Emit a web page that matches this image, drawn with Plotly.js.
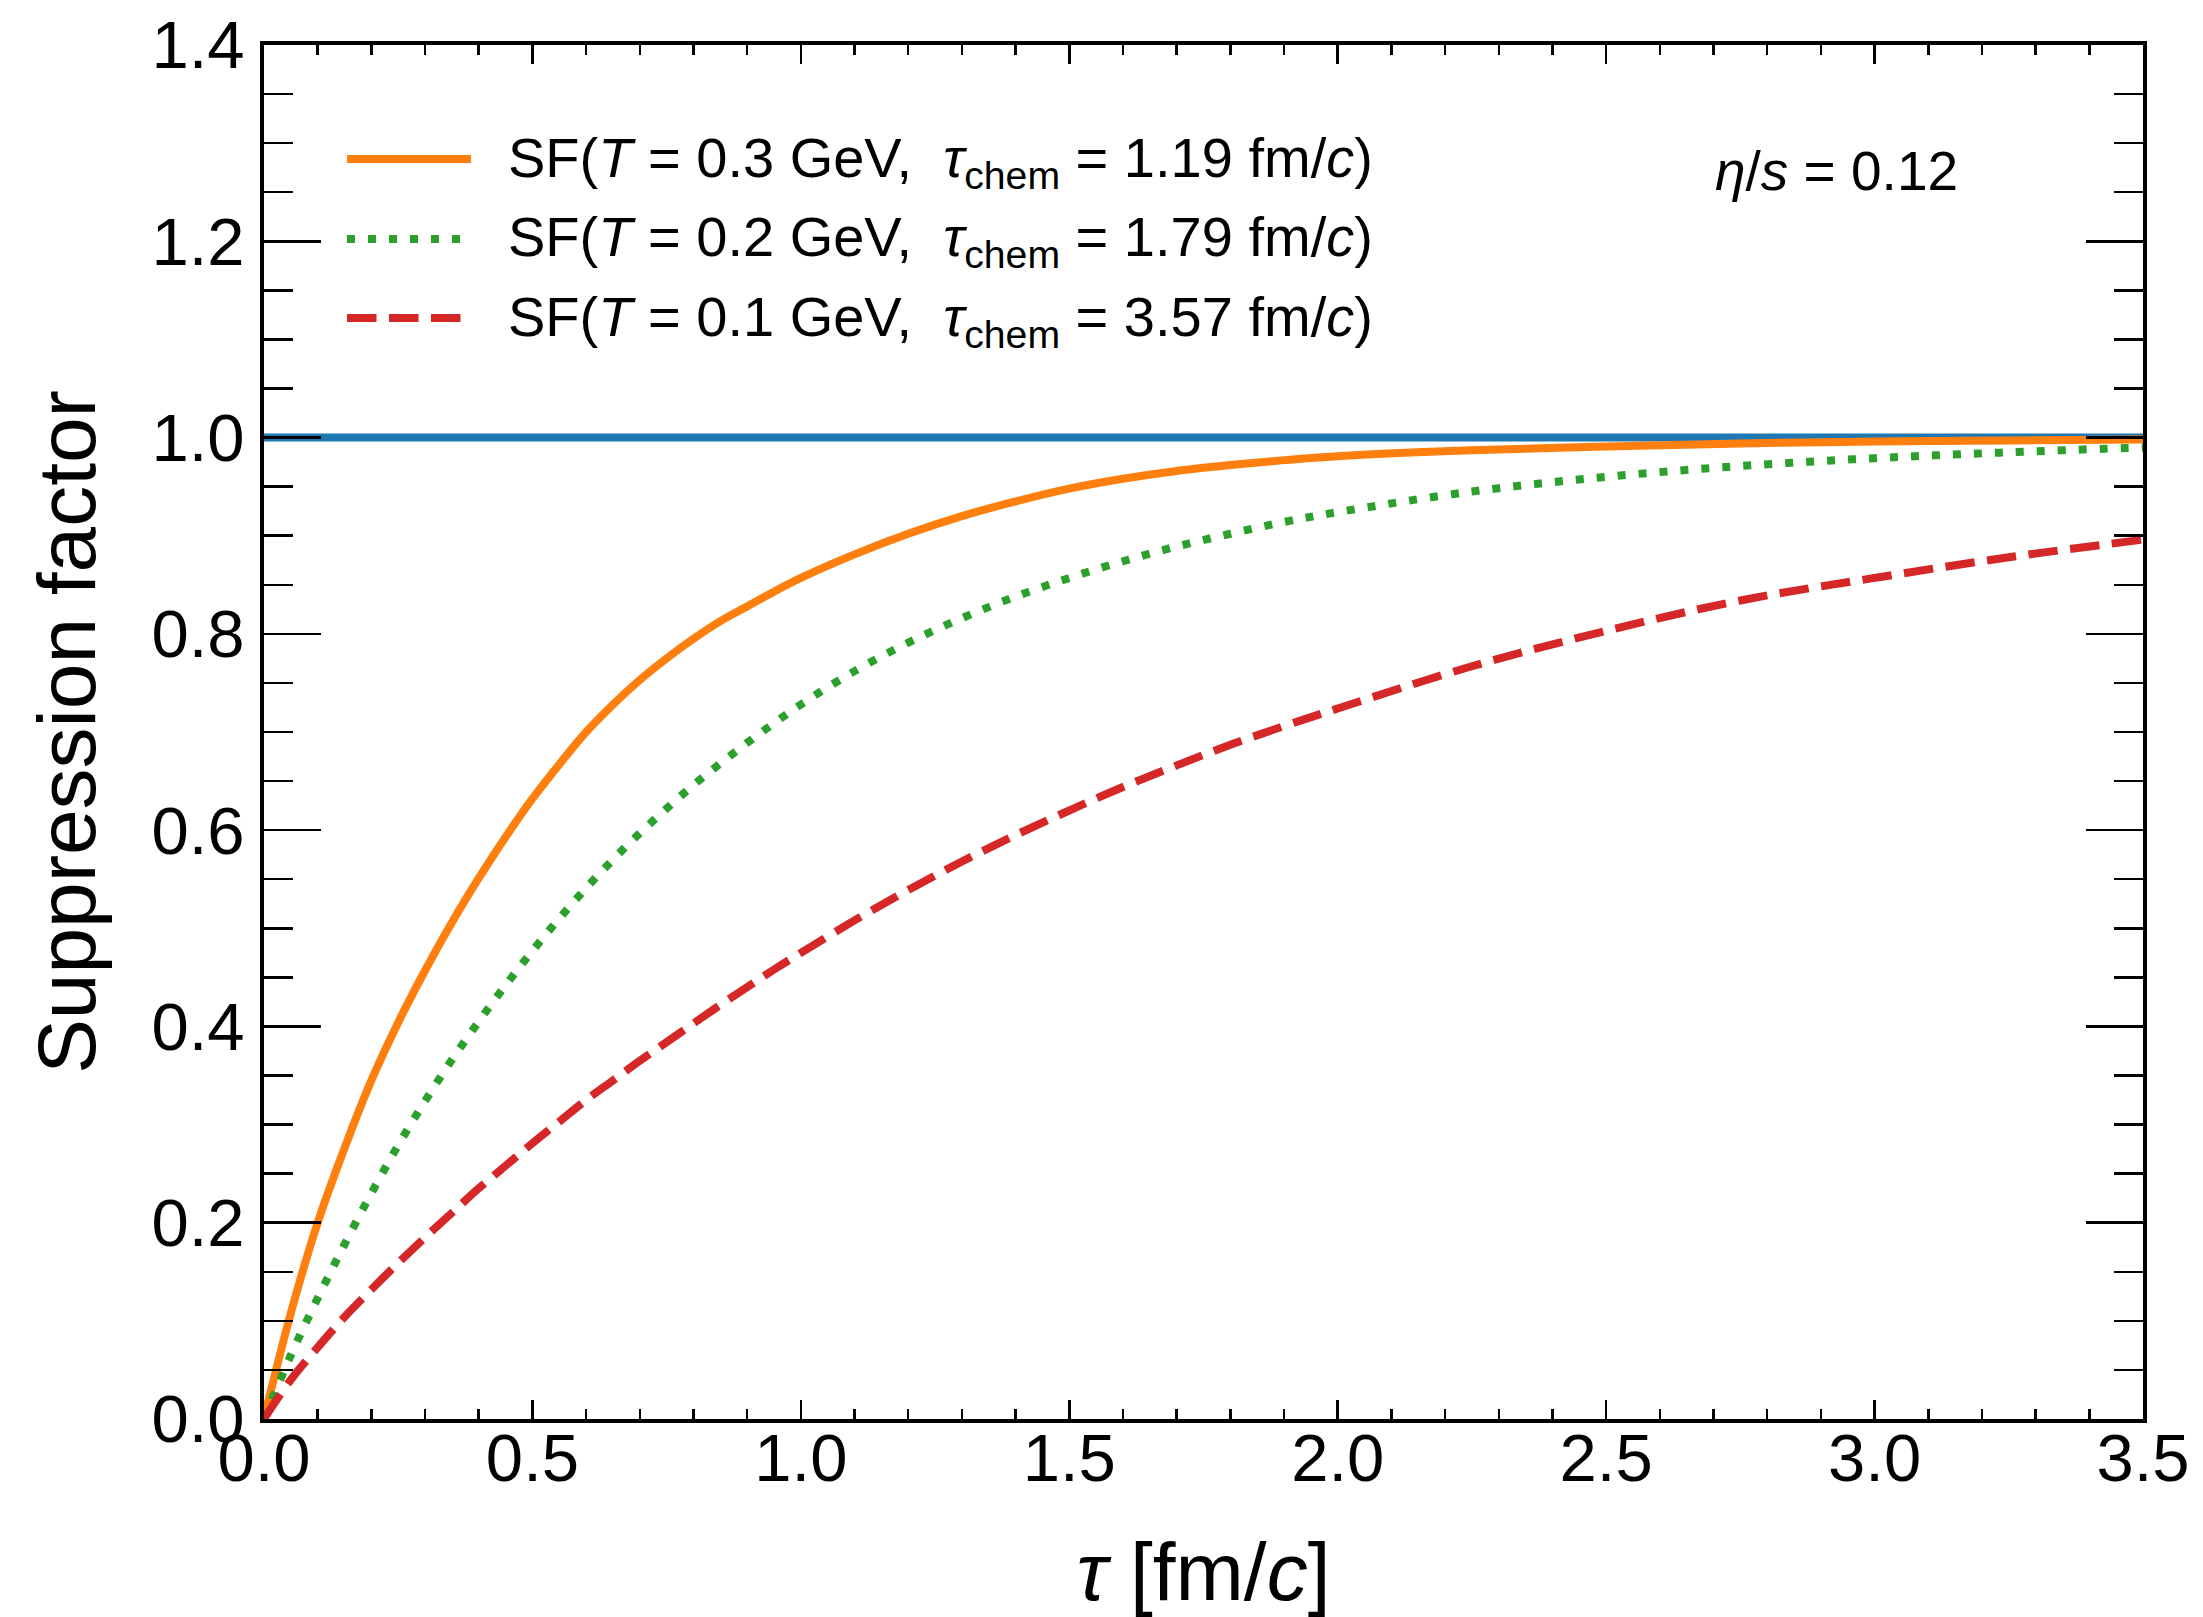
<!DOCTYPE html>
<html><head><meta charset="utf-8">
<script src="https://cdn.plot.ly/plotly-3.0.1.min.js"></script>
<style>html,body{margin:0;padding:0;background:#fff}</style>
</head><body>
<div id="chart" style="width:2203px;height:1617px"></div>
<script>
// ---- data ----
const tau = [0, 0.05, 0.1, 0.15, 0.2, 0.25, 0.3, 0.35, 0.4, 0.45, 0.5, 0.55, 0.6, 0.65, 0.7, 0.75, 0.8, 0.85, 0.9, 0.95, 1.0,
             1.1, 1.2, 1.3, 1.4, 1.5, 1.6, 1.7, 1.8, 1.9, 2.0, 2.25, 2.5, 2.75, 3.0, 3.25, 3.5];
const sfT03 = [0, 0.108, 0.200, 0.276, 0.345, 0.404, 0.457, 0.506, 0.551, 0.593, 0.632, 0.667, 0.700, 0.728, 0.753, 0.775, 0.795, 0.813, 0.828, 0.843, 0.857,
               0.881, 0.902, 0.920, 0.935, 0.948, 0.958, 0.966, 0.972, 0.977, 0.981, 0.987, 0.991, 0.994, 0.996, 0.997, 0.998];
const sfT02 = [0, 0.065, 0.123, 0.178, 0.230, 0.279, 0.324, 0.366, 0.405, 0.442, 0.477, 0.510, 0.541, 0.570, 0.597, 0.622, 0.646, 0.668, 0.689, 0.709, 0.728,
               0.762, 0.791, 0.816, 0.838, 0.857, 0.874, 0.889, 0.902, 0.914, 0.924, 0.945, 0.960, 0.971, 0.979, 0.985, 0.990];
const sfT01 = [0, 0.040, 0.073, 0.104, 0.132, 0.159, 0.185, 0.210, 0.235, 0.258, 0.281, 0.303, 0.325, 0.345, 0.365, 0.384, 0.403, 0.422, 0.440, 0.458, 0.475,
               0.508, 0.539, 0.568, 0.595, 0.620, 0.644, 0.666, 0.687, 0.706, 0.724, 0.767, 0.803, 0.834, 0.857, 0.878, 0.896];
const refX = [0, 3.5];
const refY = [1, 1];
const seriesLabels = [
  "SF(<i>T</i> = 0.3 GeV,  <i>τ</i><sub>chem</sub> = 1.19 fm/<i>c</i>)",
  "SF(<i>T</i> = 0.2 GeV,  <i>τ</i><sub>chem</sub> = 1.79 fm/<i>c</i>)",
  "SF(<i>T</i> = 0.1 GeV,  <i>τ</i><sub>chem</sub> = 3.57 fm/<i>c</i>)"
];
const noteText = "<i>η</i>/<i>s</i> = 0.12";
const xTitle = "<i>τ</i> [fm/<i>c</i>]";
const yTitle = "Suppression factor";
const xTickVals = [0, 0.5, 1.0, 1.5, 2.0, 2.5, 3.0, 3.5];
const yTickVals = [0, 0.2, 0.4, 0.6, 0.8, 1.0, 1.2, 1.4];

// ---- styles ----
const FONT = "Liberation Sans, Arial, Helvetica, sans-serif";
const colors = ["#ff7f0e", "#2ca02c", "#d62728"];
const dashes = ["solid", "8px,13px", "29.5px,12.5px"];
const LW = 8;

const series = [sfT03, sfT02, sfT01];
const traces = [{
  x: refX, y: refY, mode: "lines", line: {color: "#1f77b4", width: LW},
  showlegend: false, hoverinfo: "skip"
}];
series.forEach((s, i) => traces.push({
  x: tau, y: s, mode: "lines", name: seriesLabels[i],
  line: {color: colors[i], width: LW, dash: dashes[i], shape: "spline", smoothing: 1},
  showlegend: false
}));

// manual legend (paper coordinates)
const L = 264, R = 2143, T = 45, B = 1419;
const px2x = p => (p - L) / (R - L);
const px2y = p => (B - p) / (B - T);
const legRows = [159, 239, 318];
const shapes = [];
const annotations = [];
legRows.forEach((yy, i) => {
  shapes.push({type: "line", xref: "paper", yref: "paper",
    x0: px2x(347), x1: px2x(471), y0: px2y(yy), y1: px2y(yy),
    line: {color: colors[i], width: LW, dash: dashes[i]}});
  annotations.push({xref: "paper", yref: "paper", x: px2x(506), y: px2y(yy + 2),
    xanchor: "left", yanchor: "middle", showarrow: false, text: seriesLabels[i],
    font: {family: FONT, size: 56, color: "#000"}});
});
annotations.push({xref: "paper", yref: "paper", x: px2x(1713), y: px2y(171),
  xanchor: "left", yanchor: "middle", showarrow: false, text: noteText,
  font: {family: FONT, size: 55, color: "#000"}});

const axisCommon = {
  showline: true, linecolor: "#000", linewidth: 4, mirror: "allticks",
  ticks: "inside", tickcolor: "#000", tickwidth: 2.5,
  showgrid: false, zeroline: false, layer: "above traces",
  tickfont: {family: FONT, size: 67, color: "#000"}, tickformat: ".1f",
  fixedrange: true
};

const layout = {
  width: 2203, height: 1617,
  margin: {l: L, r: 2203 - R, t: T, b: 1617 - B, autoexpand: false},
  paper_bgcolor: "#fff", plot_bgcolor: "#fff",
  font: {family: FONT, color: "#000"},
  showlegend: false,
  xaxis: Object.assign({}, axisCommon, {
    range: [0, 3.5], tickmode: "array", tickvals: xTickVals, ticklen: 19,
    minor: {dtick: 0.1, ticklen: 10, tickwidth: 2.5, tickcolor: "#000", ticks: "inside", showgrid: false},
    ticklabelstandoff: -22,
    title: {text: xTitle, font: {family: FONT, size: 82, color: "#000"}, standoff: 50}
  }),
  yaxis: Object.assign({}, axisCommon, {
    range: [0, 1.4], tickmode: "array", tickvals: yTickVals, ticklen: 57,
    minor: {dtick: 0.05, ticklen: 29, tickwidth: 2.5, tickcolor: "#000", ticks: "inside", showgrid: false},
    ticklabelstandoff: 2,
    title: {text: yTitle, font: {family: FONT, size: 82, color: "#000"}, standoff: 30}
  }),
  shapes: shapes,
  annotations: annotations
};

Plotly.newPlot("chart", traces, layout, {staticPlot: true, displayModeBar: false});
</script>
</body></html>
